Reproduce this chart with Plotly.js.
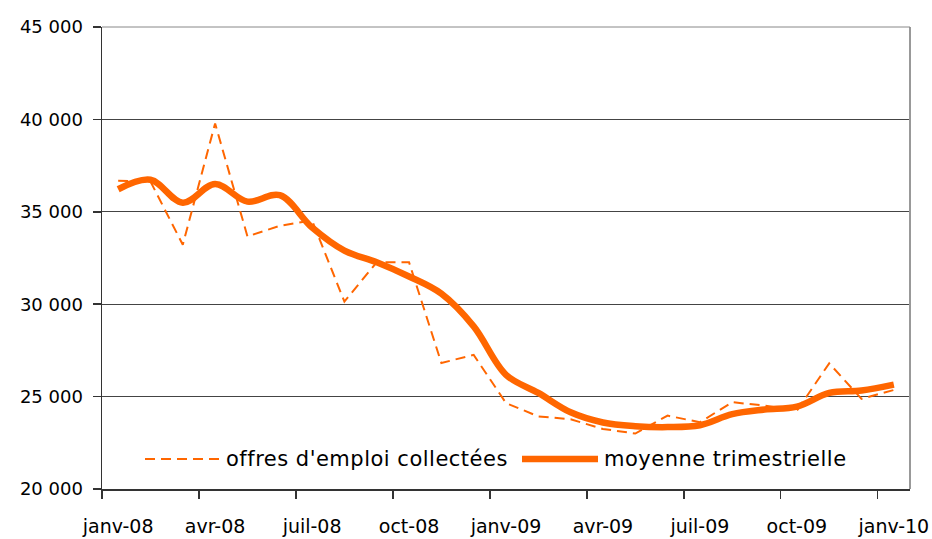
<!DOCTYPE html>
<html>
<head>
<meta charset="utf-8">
<script src="https://cdn.plot.ly/plotly-3.0.1.min.js"></script>
<style>html,body{margin:0;padding:0;background:#fff;}#chart{width:932px;height:539px;}
.annotation-text{letter-spacing:0.5px;}</style>
</head>
<body>
<div id="chart"></div>
<script>
// Months (category labels)
const months = ['janv-08','févr-08','mars-08','avr-08','mai-08','juin-08','juil-08','août-08','sept-08','oct-08','nov-08','déc-08',
                'janv-09','févr-09','mars-09','avr-09','mai-09','juin-09','juil-09','août-09','sept-09','oct-09','nov-09','déc-09',
                'janv-10'];
// Series values
const offres = [36680,36640,33220,39780,33670,34240,34530,30140,32270,32270,26820,27260,
                24650,23930,23770,23250,23000,23970,23610,24700,24510,24240,26800,24880,25360];
const moyenne = [36220,36730,35490,36500,35550,35900,34150,32900,32270,31500,30570,28800,
                 26180,25200,24150,23600,23400,23350,23450,24050,24300,24460,25200,25330,25650];
// Tick labels
const xTickIdx = [0,3,6,9,12,15,18,21,24];
const xTickText = ['janv-08','avr-08','juil-08','oct-08','janv-09','avr-09','juil-09','oct-09','janv-10'];
const yTickVals = [20000,25000,30000,35000,40000,45000];
const yTickText = ['20 000','25 000','30 000','35 000','40 000','45 000'];
const seriesNames = ["offres d'emploi collectées", 'moyenne trimestrielle'];

const xs = months.map((m, i) => i);
const orange = '#FF6600';
const font = 'DejaVu Sans, Verdana, sans-serif';

const traces = [
  {x: xs, y: offres, text: months, type: 'scatter', mode: 'lines', name: seriesNames[0],
   line: {color: orange, width: 2, dash: '10px,6px'}, hoverinfo: 'text+y'},
  {x: xs, y: moyenne, text: months, type: 'scatter', mode: 'lines', name: seriesNames[1],
   line: {color: orange, width: 6.5, shape: 'spline', smoothing: 1}, hoverinfo: 'text+y'}
];

const W = 808, H = 462;
const px = v => v / W, py = v => v / H;
const legY = py(489 - 459);

const layout = {
  width: 932, height: 539,
  margin: {l: 102, r: 22, t: 27, b: 50, pad: 0},
  paper_bgcolor: '#fff', plot_bgcolor: '#fff',
  showlegend: false,
  font: {family: font, size: 18, color: '#000'},
  xaxis: {
    range: [-0.5, months.length - 0.5],
    tickmode: 'array', tickvals: xTickIdx, ticktext: xTickText,
    ticks: '', showgrid: false, zeroline: false,
    showline: true, linecolor: '#333', linewidth: 1.5,
    tickfont: {family: font, size: 19, color: '#000'},
    ticklabelstandoff: 20,
    minor: {tickmode: 'array', tickvals: xTickIdx.map(i => i - 0.5), ticks: 'outside', ticklen: 8, tickcolor: '#333', tickwidth: 1.5, showgrid: false},
    fixedrange: true
  },
  yaxis: {
    range: [20000, 45000],
    tickmode: 'array', tickvals: yTickVals, ticktext: yTickText,
    ticks: 'outside', ticklen: 8, tickcolor: '#333', tickwidth: 1.5,
    showgrid: true, gridcolor: '#444', gridwidth: 1,
    zeroline: false, showline: true, linecolor: '#333', linewidth: 1.5,
    tickfont: {family: font, size: 18, color: '#000'},
    ticklabelstandoff: 6,
    fixedrange: true
  },
  shapes: [
    {type: 'line', xref: 'paper', yref: 'paper', x0: 1, x1: 1, y0: 0, y1: 1, line: {color: '#999', width: 2}},
    {type: 'line', xref: 'paper', yref: 'paper', x0: 0, x1: 1, y0: 1, y1: 1, line: {color: '#888', width: 1}},
    {type: 'line', xref: 'paper', yref: 'paper', x0: px(145-102), x1: px(220-102), y0: legY, y1: legY,
     line: {color: orange, width: 2, dash: '10px,6px'}},
    {type: 'line', xref: 'paper', yref: 'paper', x0: px(522-102), x1: px(598-102), y0: legY, y1: legY,
     line: {color: orange, width: 6.5}}
  ],
  annotations: [
    {xref: 'paper', yref: 'paper', x: px(224-102), y: legY, xanchor: 'left', yanchor: 'middle',
     text: seriesNames[0], showarrow: false, font: {family: font, size: 21, color: '#000'}},
    {xref: 'paper', yref: 'paper', x: px(602-102), y: legY, xanchor: 'left', yanchor: 'middle',
     text: seriesNames[1], showarrow: false, font: {family: font, size: 21, color: '#000'}}
  ]
};

Plotly.newPlot('chart', traces, layout, {displayModeBar: false, staticPlot: true});
</script>
</body>
</html>
